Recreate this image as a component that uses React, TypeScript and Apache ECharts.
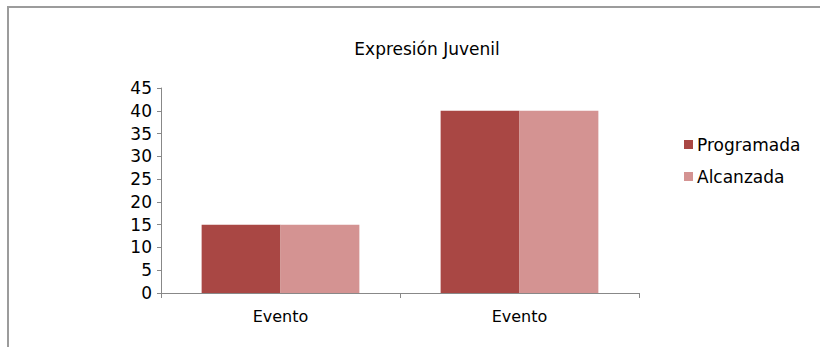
import React, { useEffect, useRef } from "react";
import * as echarts from "echarts";

const title = "Expresión Juvenil";
const categories = ["Evento", "Evento"];
const programada = [15, 40];
const alcanzada = [15, 40];
const seriesNames = ["Programada", "Alcanzada"];
const colors = ["#A94744", "#D49392"];

export default function App() {
  const ref = useRef<HTMLDivElement>(null);
  useEffect(() => {
    if (!ref.current) return;
    const chart = echarts.init(ref.current, undefined, { renderer: "svg" });
    const font = "'DejaVu Sans', 'Noto Sans', sans-serif";
    chart.setOption({
      animation: false,
      backgroundColor: "#ffffff",
      title: {
        text: title,
        left: 422,
        top: 35,
        textAlign: "center",
        textStyle: { fontFamily: font, fontSize: 17, fontWeight: "normal", color: "#000" },
      },
      graphic: [
        {
          type: "rect",
          shape: { x: 8, y: 7, width: 1000, height: 1000 },
          style: { fill: "none", stroke: "#9c9c9c", lineWidth: 2 },
          silent: true,
        },
      ],
      legend: {
        orient: "vertical",
        left: 679,
        top: 131,
        itemWidth: 9,
        itemHeight: 9,
        itemGap: 15,
        icon: "rect",
        textStyle: { fontFamily: font, fontSize: 17, color: "#000", padding: [0, 0, 0, -1] },
        data: seriesNames,
      },
      grid: { left: 161, right: 181, top: 88, bottom: 54 },
      xAxis: {
        type: "category",
        data: categories,
        axisLine: { lineStyle: { color: "#888", width: 1 } },
        axisTick: { show: true, length: 5, alignWithLabel: false, lineStyle: { color: "#888" } },
        axisLabel: { fontFamily: font, fontSize: 16, color: "#000", margin: 15 },
      },
      yAxis: {
        type: "value",
        min: 0,
        max: 45,
        interval: 5,
        splitLine: { show: false },
        axisLine: { show: true, lineStyle: { color: "#888", width: 1 } },
        axisTick: { show: true, length: 4, lineStyle: { color: "#888" } },
        axisLabel: { fontFamily: font, fontSize: 17, color: "#000", margin: 9 },
      },
      series: [
        {
          name: seriesNames[0],
          type: "bar",
          data: programada,
          itemStyle: { color: colors[0] },
          barGap: "0%",
          barCategoryGap: "34%",
        },
        {
          name: seriesNames[1],
          type: "bar",
          data: alcanzada,
          itemStyle: { color: colors[1] },
          barGap: "0%",
          barCategoryGap: "34%",
        },
      ],
    });
    return () => chart.dispose();
  }, []);
  return (
    <div
      ref={ref}
      style={{ position: "fixed", left: 0, top: 0, width: 820, height: 347 }}
    />
  );
}
